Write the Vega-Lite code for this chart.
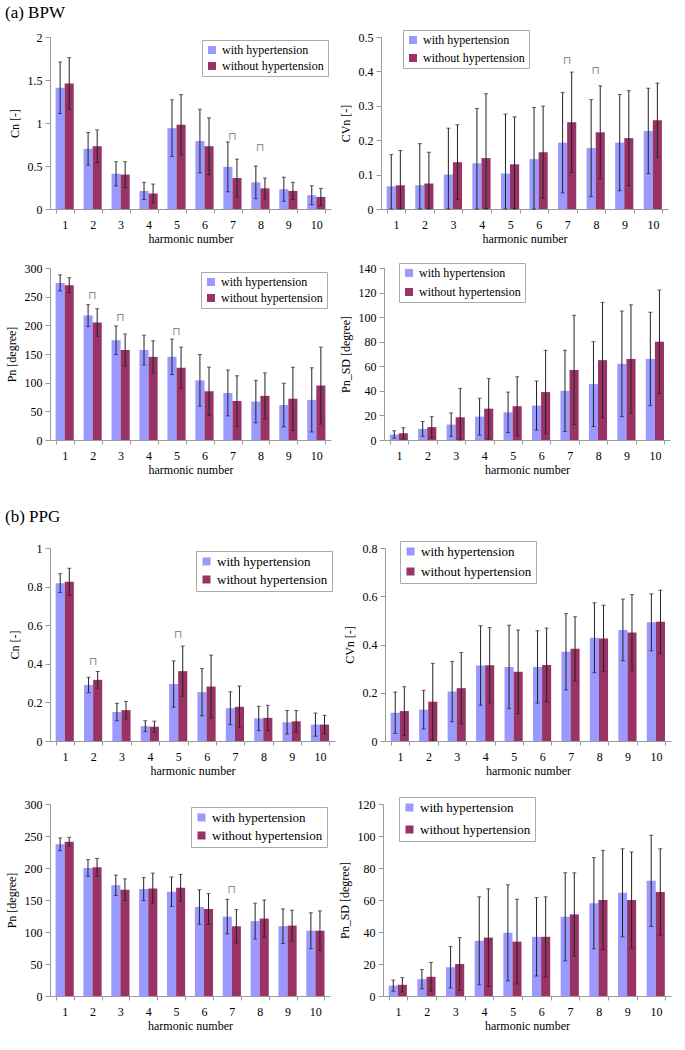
{
"$schema": "https://vega.github.io/schema/vega-lite/v6.json",
"padding": {"left": 5, "top": 3, "right": 2, "bottom": 2},
"datasets": {
"d": [
{"p":"A1","n":1,"g":"with hypertension","m":1.41,"lo":1.11,"hi":1.71},{"p":"A1","n":1,"g":"without hypertension","m":1.46,"lo":1.16,"hi":1.76},
{"p":"A1","n":2,"g":"with hypertension","m":0.70,"lo":0.51,"hi":0.89},{"p":"A1","n":2,"g":"without hypertension","m":0.73,"lo":0.54,"hi":0.92},
{"p":"A1","n":3,"g":"with hypertension","m":0.41,"lo":0.27,"hi":0.55},{"p":"A1","n":3,"g":"without hypertension","m":0.40,"lo":0.25,"hi":0.55},
{"p":"A1","n":4,"g":"with hypertension","m":0.21,"lo":0.11,"hi":0.31},{"p":"A1","n":4,"g":"without hypertension","m":0.18,"lo":0.07,"hi":0.29},
{"p":"A1","n":5,"g":"with hypertension","m":0.94,"lo":0.61,"hi":1.27},{"p":"A1","n":5,"g":"without hypertension","m":0.98,"lo":0.63,"hi":1.33},
{"p":"A1","n":6,"g":"with hypertension","m":0.79,"lo":0.42,"hi":1.16},{"p":"A1","n":6,"g":"without hypertension","m":0.73,"lo":0.40,"hi":1.06},
{"p":"A1","n":7,"g":"with hypertension","m":0.49,"lo":0.20,"hi":0.78},{"p":"A1","n":7,"g":"without hypertension","m":0.36,"lo":0.14,"hi":0.58},
{"p":"A1","n":8,"g":"with hypertension","m":0.31,"lo":0.12,"hi":0.50},{"p":"A1","n":8,"g":"without hypertension","m":0.24,"lo":0.12,"hi":0.36},
{"p":"A1","n":9,"g":"with hypertension","m":0.23,"lo":0.09,"hi":0.37},{"p":"A1","n":9,"g":"without hypertension","m":0.21,"lo":0.11,"hi":0.31},
{"p":"A1","n":10,"g":"with hypertension","m":0.16,"lo":0.05,"hi":0.27},{"p":"A1","n":10,"g":"without hypertension","m":0.14,"lo":0.04,"hi":0.24},
{"p":"A2","n":1,"g":"with hypertension","m":0.066,"lo":0,"hi":0.158},{"p":"A2","n":1,"g":"without hypertension","m":0.069,"lo":0,"hi":0.170},
{"p":"A2","n":2,"g":"with hypertension","m":0.069,"lo":0,"hi":0.190},{"p":"A2","n":2,"g":"without hypertension","m":0.074,"lo":0,"hi":0.165},
{"p":"A2","n":3,"g":"with hypertension","m":0.100,"lo":0,"hi":0.235},{"p":"A2","n":3,"g":"without hypertension","m":0.136,"lo":0.027,"hi":0.245},
{"p":"A2","n":4,"g":"with hypertension","m":0.133,"lo":0,"hi":0.292},{"p":"A2","n":4,"g":"without hypertension","m":0.148,"lo":0,"hi":0.335},
{"p":"A2","n":5,"g":"with hypertension","m":0.103,"lo":0,"hi":0.276},{"p":"A2","n":5,"g":"without hypertension","m":0.130,"lo":0,"hi":0.268},
{"p":"A2","n":6,"g":"with hypertension","m":0.145,"lo":0,"hi":0.295},{"p":"A2","n":6,"g":"without hypertension","m":0.165,"lo":0.031,"hi":0.299},
{"p":"A2","n":7,"g":"with hypertension","m":0.193,"lo":0.047,"hi":0.339},{"p":"A2","n":7,"g":"without hypertension","m":0.252,"lo":0.106,"hi":0.398},
{"p":"A2","n":8,"g":"with hypertension","m":0.177,"lo":0.036,"hi":0.318},{"p":"A2","n":8,"g":"without hypertension","m":0.223,"lo":0.088,"hi":0.358},
{"p":"A2","n":9,"g":"with hypertension","m":0.193,"lo":0.053,"hi":0.333},{"p":"A2","n":9,"g":"without hypertension","m":0.206,"lo":0.068,"hi":0.344},
{"p":"A2","n":10,"g":"with hypertension","m":0.227,"lo":0.103,"hi":0.351},{"p":"A2","n":10,"g":"without hypertension","m":0.258,"lo":0.150,"hi":0.366},
{"p":"A3","n":1,"g":"with hypertension","m":274,"lo":260,"hi":288},{"p":"A3","n":1,"g":"without hypertension","m":270,"lo":257,"hi":283},
{"p":"A3","n":2,"g":"with hypertension","m":217,"lo":198,"hi":236},{"p":"A3","n":2,"g":"without hypertension","m":205,"lo":181,"hi":229},
{"p":"A3","n":3,"g":"with hypertension","m":174,"lo":149,"hi":199},{"p":"A3","n":3,"g":"without hypertension","m":157,"lo":129,"hi":185},
{"p":"A3","n":4,"g":"with hypertension","m":157,"lo":131,"hi":183},{"p":"A3","n":4,"g":"without hypertension","m":145,"lo":117,"hi":173},
{"p":"A3","n":5,"g":"with hypertension","m":145,"lo":114,"hi":176},{"p":"A3","n":5,"g":"without hypertension","m":126,"lo":90,"hi":162},
{"p":"A3","n":6,"g":"with hypertension","m":104,"lo":59,"hi":149},{"p":"A3","n":6,"g":"without hypertension","m":85,"lo":43,"hi":127},
{"p":"A3","n":7,"g":"with hypertension","m":82,"lo":42,"hi":122},{"p":"A3","n":7,"g":"without hypertension","m":68,"lo":24,"hi":112},
{"p":"A3","n":8,"g":"with hypertension","m":67,"lo":30,"hi":104},{"p":"A3","n":8,"g":"without hypertension","m":77,"lo":37,"hi":117},
{"p":"A3","n":9,"g":"with hypertension","m":61,"lo":23,"hi":99},{"p":"A3","n":9,"g":"without hypertension","m":72,"lo":17,"hi":127},
{"p":"A3","n":10,"g":"with hypertension","m":70,"lo":14,"hi":126},{"p":"A3","n":10,"g":"without hypertension","m":95,"lo":28,"hi":162},
{"p":"A4","n":1,"g":"with hypertension","m":4.5,"lo":1.5,"hi":7.5},{"p":"A4","n":1,"g":"without hypertension","m":5.5,"lo":1,"hi":10},
{"p":"A4","n":2,"g":"with hypertension","m":9,"lo":3,"hi":15},{"p":"A4","n":2,"g":"without hypertension","m":10.5,"lo":2,"hi":19},
{"p":"A4","n":3,"g":"with hypertension","m":12.5,"lo":3,"hi":22},{"p":"A4","n":3,"g":"without hypertension","m":18.5,"lo":0,"hi":42},
{"p":"A4","n":4,"g":"with hypertension","m":19,"lo":4,"hi":34},{"p":"A4","n":4,"g":"without hypertension","m":25.5,"lo":1,"hi":50},
{"p":"A4","n":5,"g":"with hypertension","m":22.5,"lo":6,"hi":39},{"p":"A4","n":5,"g":"without hypertension","m":27.5,"lo":3.5,"hi":51.5},
{"p":"A4","n":6,"g":"with hypertension","m":28,"lo":8,"hi":48},{"p":"A4","n":6,"g":"without hypertension","m":39,"lo":5,"hi":73},
{"p":"A4","n":7,"g":"with hypertension","m":40,"lo":7,"hi":73},{"p":"A4","n":7,"g":"without hypertension","m":57,"lo":12.5,"hi":101.5},
{"p":"A4","n":8,"g":"with hypertension","m":45.5,"lo":11,"hi":80},{"p":"A4","n":8,"g":"without hypertension","m":65,"lo":18,"hi":112},
{"p":"A4","n":9,"g":"with hypertension","m":62,"lo":19,"hi":105},{"p":"A4","n":9,"g":"without hypertension","m":66,"lo":22,"hi":110},
{"p":"A4","n":10,"g":"with hypertension","m":66,"lo":28,"hi":104},{"p":"A4","n":10,"g":"without hypertension","m":80,"lo":38,"hi":122},
{"p":"B1","n":1,"g":"with hypertension","m":0.818,"lo":0.769,"hi":0.867},{"p":"B1","n":1,"g":"without hypertension","m":0.825,"lo":0.755,"hi":0.895},
{"p":"B1","n":2,"g":"with hypertension","m":0.290,"lo":0.250,"hi":0.330},{"p":"B1","n":2,"g":"without hypertension","m":0.317,"lo":0.274,"hi":0.360},
{"p":"B1","n":3,"g":"with hypertension","m":0.150,"lo":0.105,"hi":0.195},{"p":"B1","n":3,"g":"without hypertension","m":0.160,"lo":0.115,"hi":0.205},
{"p":"B1","n":4,"g":"with hypertension","m":0.077,"lo":0.049,"hi":0.105},{"p":"B1","n":4,"g":"without hypertension","m":0.074,"lo":0.045,"hi":0.103},
{"p":"B1","n":5,"g":"with hypertension","m":0.295,"lo":0.175,"hi":0.415},{"p":"B1","n":5,"g":"without hypertension","m":0.362,"lo":0.232,"hi":0.492},
{"p":"B1","n":6,"g":"with hypertension","m":0.253,"lo":0.131,"hi":0.375},{"p":"B1","n":6,"g":"without hypertension","m":0.282,"lo":0.119,"hi":0.445},
{"p":"B1","n":7,"g":"with hypertension","m":0.170,"lo":0.085,"hi":0.255},{"p":"B1","n":7,"g":"without hypertension","m":0.177,"lo":0.069,"hi":0.285},
{"p":"B1","n":8,"g":"with hypertension","m":0.117,"lo":0.054,"hi":0.180},{"p":"B1","n":8,"g":"without hypertension","m":0.120,"lo":0.055,"hi":0.185},
{"p":"B1","n":9,"g":"with hypertension","m":0.097,"lo":0.036,"hi":0.158},{"p":"B1","n":9,"g":"without hypertension","m":0.102,"lo":0.046,"hi":0.158},
{"p":"B1","n":10,"g":"with hypertension","m":0.085,"lo":0.025,"hi":0.145},{"p":"B1","n":10,"g":"without hypertension","m":0.085,"lo":0.037,"hi":0.133},
{"p":"B2","n":1,"g":"with hypertension","m":0.117,"lo":0.031,"hi":0.203},{"p":"B2","n":1,"g":"without hypertension","m":0.124,"lo":0.023,"hi":0.225},
{"p":"B2","n":2,"g":"with hypertension","m":0.130,"lo":0.050,"hi":0.210},{"p":"B2","n":2,"g":"without hypertension","m":0.163,"lo":0.004,"hi":0.322},
{"p":"B2","n":3,"g":"with hypertension","m":0.205,"lo":0.080,"hi":0.330},{"p":"B2","n":3,"g":"without hypertension","m":0.219,"lo":0.071,"hi":0.367},
{"p":"B2","n":4,"g":"with hypertension","m":0.313,"lo":0.148,"hi":0.478},{"p":"B2","n":4,"g":"without hypertension","m":0.314,"lo":0.158,"hi":0.470},
{"p":"B2","n":5,"g":"with hypertension","m":0.307,"lo":0.134,"hi":0.480},{"p":"B2","n":5,"g":"without hypertension","m":0.287,"lo":0.114,"hi":0.460},
{"p":"B2","n":6,"g":"with hypertension","m":0.307,"lo":0.157,"hi":0.457},{"p":"B2","n":6,"g":"without hypertension","m":0.315,"lo":0.162,"hi":0.468},
{"p":"B2","n":7,"g":"with hypertension","m":0.370,"lo":0.212,"hi":0.528},{"p":"B2","n":7,"g":"without hypertension","m":0.382,"lo":0.249,"hi":0.515},
{"p":"B2","n":8,"g":"with hypertension","m":0.428,"lo":0.283,"hi":0.573},{"p":"B2","n":8,"g":"without hypertension","m":0.425,"lo":0.287,"hi":0.563},
{"p":"B2","n":9,"g":"with hypertension","m":0.460,"lo":0.332,"hi":0.588},{"p":"B2","n":9,"g":"without hypertension","m":0.450,"lo":0.293,"hi":0.607},
{"p":"B2","n":10,"g":"with hypertension","m":0.492,"lo":0.374,"hi":0.610},{"p":"B2","n":10,"g":"without hypertension","m":0.494,"lo":0.363,"hi":0.625},
{"p":"B3","n":1,"g":"with hypertension","m":237,"lo":227,"hi":247},{"p":"B3","n":1,"g":"without hypertension","m":241,"lo":234,"hi":248},
{"p":"B3","n":2,"g":"with hypertension","m":200,"lo":187,"hi":213},{"p":"B3","n":2,"g":"without hypertension","m":201,"lo":187,"hi":215},
{"p":"B3","n":3,"g":"with hypertension","m":173,"lo":157,"hi":189},{"p":"B3","n":3,"g":"without hypertension","m":166,"lo":149,"hi":183},
{"p":"B3","n":4,"g":"with hypertension","m":167,"lo":149,"hi":185},{"p":"B3","n":4,"g":"without hypertension","m":168,"lo":144,"hi":192},
{"p":"B3","n":5,"g":"with hypertension","m":163,"lo":140,"hi":186},{"p":"B3","n":5,"g":"without hypertension","m":169,"lo":148,"hi":190},
{"p":"B3","n":6,"g":"with hypertension","m":139,"lo":112,"hi":166},{"p":"B3","n":6,"g":"without hypertension","m":136,"lo":112,"hi":160},
{"p":"B3","n":7,"g":"with hypertension","m":124,"lo":97,"hi":151},{"p":"B3","n":7,"g":"without hypertension","m":109,"lo":83,"hi":135},
{"p":"B3","n":8,"g":"with hypertension","m":117,"lo":89,"hi":145},{"p":"B3","n":8,"g":"without hypertension","m":121,"lo":92,"hi":150},
{"p":"B3","n":9,"g":"with hypertension","m":109,"lo":82,"hi":136},{"p":"B3","n":9,"g":"without hypertension","m":110,"lo":86,"hi":134},
{"p":"B3","n":10,"g":"with hypertension","m":102,"lo":74,"hi":130},{"p":"B3","n":10,"g":"without hypertension","m":102,"lo":71,"hi":133},
{"p":"B4","n":1,"g":"with hypertension","m":6.5,"lo":3,"hi":10},{"p":"B4","n":1,"g":"without hypertension","m":7,"lo":2.5,"hi":11.5},
{"p":"B4","n":2,"g":"with hypertension","m":10.5,"lo":4.5,"hi":16.5},{"p":"B4","n":2,"g":"without hypertension","m":12,"lo":3,"hi":21},
{"p":"B4","n":3,"g":"with hypertension","m":18,"lo":5,"hi":31},{"p":"B4","n":3,"g":"without hypertension","m":20,"lo":3.5,"hi":36.5},
{"p":"B4","n":4,"g":"with hypertension","m":34.5,"lo":7,"hi":62},{"p":"B4","n":4,"g":"without hypertension","m":36.5,"lo":6,"hi":67},
{"p":"B4","n":5,"g":"with hypertension","m":39.5,"lo":9.5,"hi":69.5},{"p":"B4","n":5,"g":"without hypertension","m":34,"lo":7.5,"hi":60.5},
{"p":"B4","n":6,"g":"with hypertension","m":37,"lo":12.5,"hi":61.5},{"p":"B4","n":6,"g":"without hypertension","m":37,"lo":12,"hi":62},
{"p":"B4","n":7,"g":"with hypertension","m":49.5,"lo":22,"hi":77},{"p":"B4","n":7,"g":"without hypertension","m":51,"lo":25,"hi":77},
{"p":"B4","n":8,"g":"with hypertension","m":58,"lo":29.5,"hi":86.5},{"p":"B4","n":8,"g":"without hypertension","m":60,"lo":29,"hi":91},
{"p":"B4","n":9,"g":"with hypertension","m":64.5,"lo":37,"hi":92},{"p":"B4","n":9,"g":"without hypertension","m":60,"lo":30,"hi":90},
{"p":"B4","n":10,"g":"with hypertension","m":72,"lo":43.5,"hi":100.5},{"p":"B4","n":10,"g":"without hypertension","m":65,"lo":38,"hi":92}
],
"s": [
{"p":"A1","n":7,"y":0.84,"t":"⊓"},{"p":"A1","n":8,"y":0.71,"t":"⊓"},
{"p":"A2","n":7,"y":0.43,"t":"⊓"},{"p":"A2","n":8,"y":0.40,"t":"⊓"},
{"p":"A3","n":2,"y":251,"t":"⊓"},{"p":"A3","n":3,"y":213,"t":"⊓"},{"p":"A3","n":5,"y":188,"t":"⊓"},
{"p":"B1","n":2,"y":0.41,"t":"⊓"},{"p":"B1","n":5,"y":0.55,"t":"⊓"},
{"p":"B3","n":7,"y":166,"t":"⊓"}
]
},
"spacing": 32,
"resolve": {"scale": {"color": "independent"}},
"vconcat": [
{
"title": {"text": "(a) BPW", "offset": 8},
"spacing": 18,
"resolve": {"scale": {"color": "independent"}},
"vconcat": [
{"spacing": 8, "resolve": {"scale": {"color": "independent"}}, "hconcat": [
{"width": 281, "height": 172, "layer": [
{"data": {"name": "d"}, "transform": [{"filter": "datum.p == 'A1'"}], "mark": {"type": "bar"},
 "encoding": {"x": {"field": "n", "type": "ordinal", "title": "harmonic number", "scale": {"paddingInner": 0.35, "paddingOuter": 0.2}},
  "xOffset": {"field": "g", "type": "nominal"},
  "y": {"field": "m", "type": "quantitative", "title": "Cn [-]", "scale": {"domain": [0, 2]}, "axis": {"values": [0, 0.5, 1, 1.5, 2], "format": "~f"}},
  "color": {"field": "g", "type": "nominal", "scale": {"domain": ["with hypertension", "without hypertension"], "range": ["#9999ff", "#993366"]}, "legend": {"title": null, "orient": "top-right", "offset": 3}}}},
{"data": {"name": "d"}, "transform": [{"filter": "datum.p == 'A1'"}], "mark": {"type": "rule", "color": "#222", "strokeWidth": 1},
 "encoding": {"x": {"field": "n", "type": "ordinal", "title": "harmonic number"}, "xOffset": {"field": "g", "type": "nominal"}, "y": {"field": "lo", "type": "quantitative", "title": "Cn [-]", "axis": {"values": [0, 0.5, 1, 1.5, 2], "format": "~f"}}, "y2": {"field": "hi"}}},
{"data": {"name": "d"}, "transform": [{"filter": "datum.p == 'A1'"}], "mark": {"type": "tick", "size": 4, "thickness": 1, "color": "#222"},
 "encoding": {"x": {"field": "n", "type": "ordinal", "title": "harmonic number"}, "xOffset": {"field": "g", "type": "nominal"}, "y": {"field": "lo", "type": "quantitative", "title": "Cn [-]", "axis": {"values": [0, 0.5, 1, 1.5, 2], "format": "~f"}}}},
{"data": {"name": "d"}, "transform": [{"filter": "datum.p == 'A1'"}], "mark": {"type": "tick", "size": 4, "thickness": 1, "color": "#222"},
 "encoding": {"x": {"field": "n", "type": "ordinal", "title": "harmonic number"}, "xOffset": {"field": "g", "type": "nominal"}, "y": {"field": "hi", "type": "quantitative", "title": "Cn [-]", "axis": {"values": [0, 0.5, 1, 1.5, 2], "format": "~f"}}}},
{"data": {"name": "s"}, "transform": [{"filter": "datum.p == 'A1'"}], "mark": {"type": "text", "font": "DejaVu Sans", "fontSize": 11, "color": "#888", "baseline": "middle"},
 "encoding": {"x": {"field": "n", "type": "ordinal", "title": "harmonic number"}, "y": {"field": "y", "type": "quantitative", "title": "Cn [-]", "axis": {"values": [0, 0.5, 1, 1.5, 2], "format": "~f"}}, "text": {"field": "t"}}}
]},
{"width": 287, "height": 172, "layer": [
{"data": {"name": "d"}, "transform": [{"filter": "datum.p == 'A2'"}], "mark": {"type": "bar"},
 "encoding": {"x": {"field": "n", "type": "ordinal", "title": "harmonic number", "scale": {"paddingInner": 0.35, "paddingOuter": 0.2}},
  "xOffset": {"field": "g", "type": "nominal"},
  "y": {"field": "m", "type": "quantitative", "title": "CVn [-]", "scale": {"domain": [0, 0.5]}, "axis": {"values": [0, 0.1, 0.2, 0.3, 0.4, 0.5], "format": "~f"}},
  "color": {"field": "g", "type": "nominal", "scale": {"domain": ["with hypertension", "without hypertension"], "range": ["#9999ff", "#993366"]}, "legend": {"title": null, "orient": "none", "legendX": 22, "legendY": -7, "rowPadding": 6}}}},
{"data": {"name": "d"}, "transform": [{"filter": "datum.p == 'A2'"}], "mark": {"type": "rule", "color": "#222", "strokeWidth": 1},
 "encoding": {"x": {"field": "n", "type": "ordinal", "title": "harmonic number"}, "xOffset": {"field": "g", "type": "nominal"}, "y": {"field": "lo", "type": "quantitative", "title": "CVn [-]", "axis": {"values": [0, 0.1, 0.2, 0.3, 0.4, 0.5], "format": "~f"}}, "y2": {"field": "hi"}}},
{"data": {"name": "d"}, "transform": [{"filter": "datum.p == 'A2'"}], "mark": {"type": "tick", "size": 4, "thickness": 1, "color": "#222"},
 "encoding": {"x": {"field": "n", "type": "ordinal", "title": "harmonic number"}, "xOffset": {"field": "g", "type": "nominal"}, "y": {"field": "lo", "type": "quantitative", "title": "CVn [-]", "axis": {"values": [0, 0.1, 0.2, 0.3, 0.4, 0.5], "format": "~f"}}}},
{"data": {"name": "d"}, "transform": [{"filter": "datum.p == 'A2'"}], "mark": {"type": "tick", "size": 4, "thickness": 1, "color": "#222"},
 "encoding": {"x": {"field": "n", "type": "ordinal", "title": "harmonic number"}, "xOffset": {"field": "g", "type": "nominal"}, "y": {"field": "hi", "type": "quantitative", "title": "CVn [-]", "axis": {"values": [0, 0.1, 0.2, 0.3, 0.4, 0.5], "format": "~f"}}}},
{"data": {"name": "s"}, "transform": [{"filter": "datum.p == 'A2'"}], "mark": {"type": "text", "font": "DejaVu Sans", "fontSize": 11, "color": "#888", "baseline": "middle"},
 "encoding": {"x": {"field": "n", "type": "ordinal", "title": "harmonic number"}, "y": {"field": "y", "type": "quantitative", "title": "CVn [-]", "axis": {"values": [0, 0.1, 0.2, 0.3, 0.4, 0.5], "format": "~f"}}, "text": {"field": "t"}}}
]}
]},
{"spacing": 8, "resolve": {"scale": {"color": "independent"}}, "hconcat": [
{"width": 281, "height": 172, "layer": [
{"data": {"name": "d"}, "transform": [{"filter": "datum.p == 'A3'"}], "mark": {"type": "bar"},
 "encoding": {"x": {"field": "n", "type": "ordinal", "title": "harmonic number", "scale": {"paddingInner": 0.35, "paddingOuter": 0.2}},
  "xOffset": {"field": "g", "type": "nominal"},
  "y": {"field": "m", "type": "quantitative", "title": "Pn [degree]", "scale": {"domain": [0, 300]}, "axis": {"values": [0, 50, 100, 150, 200, 250, 300], "format": "~f"}},
  "color": {"field": "g", "type": "nominal", "scale": {"domain": ["with hypertension", "without hypertension"], "range": ["#9999ff", "#993366"]}, "legend": {"title": null, "orient": "top-right", "offset": 4}}}},
{"data": {"name": "d"}, "transform": [{"filter": "datum.p == 'A3'"}], "mark": {"type": "rule", "color": "#222", "strokeWidth": 1},
 "encoding": {"x": {"field": "n", "type": "ordinal", "title": "harmonic number"}, "xOffset": {"field": "g", "type": "nominal"}, "y": {"field": "lo", "type": "quantitative", "title": "Pn [degree]", "axis": {"values": [0, 50, 100, 150, 200, 250, 300], "format": "~f"}}, "y2": {"field": "hi"}}},
{"data": {"name": "d"}, "transform": [{"filter": "datum.p == 'A3'"}], "mark": {"type": "tick", "size": 4, "thickness": 1, "color": "#222"},
 "encoding": {"x": {"field": "n", "type": "ordinal", "title": "harmonic number"}, "xOffset": {"field": "g", "type": "nominal"}, "y": {"field": "lo", "type": "quantitative", "title": "Pn [degree]", "axis": {"values": [0, 50, 100, 150, 200, 250, 300], "format": "~f"}}}},
{"data": {"name": "d"}, "transform": [{"filter": "datum.p == 'A3'"}], "mark": {"type": "tick", "size": 4, "thickness": 1, "color": "#222"},
 "encoding": {"x": {"field": "n", "type": "ordinal", "title": "harmonic number"}, "xOffset": {"field": "g", "type": "nominal"}, "y": {"field": "hi", "type": "quantitative", "title": "Pn [degree]", "axis": {"values": [0, 50, 100, 150, 200, 250, 300], "format": "~f"}}}},
{"data": {"name": "s"}, "transform": [{"filter": "datum.p == 'A3'"}], "mark": {"type": "text", "font": "DejaVu Sans", "fontSize": 11, "color": "#888", "baseline": "middle"},
 "encoding": {"x": {"field": "n", "type": "ordinal", "title": "harmonic number"}, "y": {"field": "y", "type": "quantitative", "title": "Pn [degree]", "axis": {"values": [0, 50, 100, 150, 200, 250, 300], "format": "~f"}}, "text": {"field": "t"}}}
]},
{"width": 286, "height": 172, "layer": [
{"data": {"name": "d"}, "transform": [{"filter": "datum.p == 'A4'"}], "mark": {"type": "bar"},
 "encoding": {"x": {"field": "n", "type": "ordinal", "title": "harmonic number", "scale": {"paddingInner": 0.35, "paddingOuter": 0.2}},
  "xOffset": {"field": "g", "type": "nominal"},
  "y": {"field": "m", "type": "quantitative", "title": "Pn_SD [degree]", "scale": {"domain": [0, 140]}, "axis": {"values": [0, 20, 40, 60, 80, 100, 120, 140], "format": "~f"}},
  "color": {"field": "g", "type": "nominal", "scale": {"domain": ["with hypertension", "without hypertension"], "range": ["#9999ff", "#993366"]}, "legend": {"title": null, "orient": "none", "legendX": 15, "legendY": -5, "rowPadding": 7}}}},
{"data": {"name": "d"}, "transform": [{"filter": "datum.p == 'A4'"}], "mark": {"type": "rule", "color": "#222", "strokeWidth": 1},
 "encoding": {"x": {"field": "n", "type": "ordinal", "title": "harmonic number"}, "xOffset": {"field": "g", "type": "nominal"}, "y": {"field": "lo", "type": "quantitative", "title": "Pn_SD [degree]", "axis": {"values": [0, 20, 40, 60, 80, 100, 120, 140], "format": "~f"}}, "y2": {"field": "hi"}}},
{"data": {"name": "d"}, "transform": [{"filter": "datum.p == 'A4'"}], "mark": {"type": "tick", "size": 4, "thickness": 1, "color": "#222"},
 "encoding": {"x": {"field": "n", "type": "ordinal", "title": "harmonic number"}, "xOffset": {"field": "g", "type": "nominal"}, "y": {"field": "lo", "type": "quantitative", "title": "Pn_SD [degree]", "axis": {"values": [0, 20, 40, 60, 80, 100, 120, 140], "format": "~f"}}}},
{"data": {"name": "d"}, "transform": [{"filter": "datum.p == 'A4'"}], "mark": {"type": "tick", "size": 4, "thickness": 1, "color": "#222"},
 "encoding": {"x": {"field": "n", "type": "ordinal", "title": "harmonic number"}, "xOffset": {"field": "g", "type": "nominal"}, "y": {"field": "hi", "type": "quantitative", "title": "Pn_SD [degree]", "axis": {"values": [0, 20, 40, 60, 80, 100, 120, 140], "format": "~f"}}}}
]}
]}
]
},
{
"title": {"text": "(b) PPG", "offset": 15},
"spacing": 20,
"resolve": {"scale": {"color": "independent"}},
"vconcat": [
{"spacing": 8, "resolve": {"scale": {"color": "independent"}}, "hconcat": [
{"width": 285, "height": 193, "layer": [
{"data": {"name": "d"}, "transform": [{"filter": "datum.p == 'B1'"}], "mark": {"type": "bar"},
 "encoding": {"x": {"field": "n", "type": "ordinal", "title": "harmonic number", "scale": {"paddingInner": 0.35, "paddingOuter": 0.2}},
  "xOffset": {"field": "g", "type": "nominal"},
  "y": {"field": "m", "type": "quantitative", "title": "Cn [-]", "scale": {"domain": [0, 1]}, "axis": {"values": [0, 0.2, 0.4, 0.6, 0.8, 1], "format": "~f"}},
  "color": {"field": "g", "type": "nominal", "scale": {"domain": ["with hypertension", "without hypertension"], "range": ["#9999ff", "#993366"]}, "legend": {"title": null, "orient": "top-right", "offset": 3, "labelFontSize": 13}}}},
{"data": {"name": "d"}, "transform": [{"filter": "datum.p == 'B1'"}], "mark": {"type": "rule", "color": "#222", "strokeWidth": 1},
 "encoding": {"x": {"field": "n", "type": "ordinal", "title": "harmonic number"}, "xOffset": {"field": "g", "type": "nominal"}, "y": {"field": "lo", "type": "quantitative", "title": "Cn [-]", "axis": {"values": [0, 0.2, 0.4, 0.6, 0.8, 1], "format": "~f"}}, "y2": {"field": "hi"}}},
{"data": {"name": "d"}, "transform": [{"filter": "datum.p == 'B1'"}], "mark": {"type": "tick", "size": 4, "thickness": 1, "color": "#222"},
 "encoding": {"x": {"field": "n", "type": "ordinal", "title": "harmonic number"}, "xOffset": {"field": "g", "type": "nominal"}, "y": {"field": "lo", "type": "quantitative", "title": "Cn [-]", "axis": {"values": [0, 0.2, 0.4, 0.6, 0.8, 1], "format": "~f"}}}},
{"data": {"name": "d"}, "transform": [{"filter": "datum.p == 'B1'"}], "mark": {"type": "tick", "size": 4, "thickness": 1, "color": "#222"},
 "encoding": {"x": {"field": "n", "type": "ordinal", "title": "harmonic number"}, "xOffset": {"field": "g", "type": "nominal"}, "y": {"field": "hi", "type": "quantitative", "title": "Cn [-]", "axis": {"values": [0, 0.2, 0.4, 0.6, 0.8, 1], "format": "~f"}}}},
{"data": {"name": "s"}, "transform": [{"filter": "datum.p == 'B1'"}], "mark": {"type": "text", "font": "DejaVu Sans", "fontSize": 11, "color": "#888", "baseline": "middle"},
 "encoding": {"x": {"field": "n", "type": "ordinal", "title": "harmonic number"}, "y": {"field": "y", "type": "quantitative", "title": "Cn [-]", "axis": {"values": [0, 0.2, 0.4, 0.6, 0.8, 1], "format": "~f"}}, "text": {"field": "t"}}}
]},
{"width": 286, "height": 193, "layer": [
{"data": {"name": "d"}, "transform": [{"filter": "datum.p == 'B2'"}], "mark": {"type": "bar"},
 "encoding": {"x": {"field": "n", "type": "ordinal", "title": "harmonic number", "scale": {"paddingInner": 0.35, "paddingOuter": 0.2}},
  "xOffset": {"field": "g", "type": "nominal"},
  "y": {"field": "m", "type": "quantitative", "title": "CVn [-]", "scale": {"domain": [0, 0.8]}, "axis": {"values": [0, 0.2, 0.4, 0.6, 0.8], "format": "~f"}},
  "color": {"field": "g", "type": "nominal", "scale": {"domain": ["with hypertension", "without hypertension"], "range": ["#9999ff", "#993366"]}, "legend": {"title": null, "orient": "none", "legendX": 15, "legendY": -7, "rowPadding": 6, "labelFontSize": 13}}}},
{"data": {"name": "d"}, "transform": [{"filter": "datum.p == 'B2'"}], "mark": {"type": "rule", "color": "#222", "strokeWidth": 1},
 "encoding": {"x": {"field": "n", "type": "ordinal", "title": "harmonic number"}, "xOffset": {"field": "g", "type": "nominal"}, "y": {"field": "lo", "type": "quantitative", "title": "CVn [-]", "axis": {"values": [0, 0.2, 0.4, 0.6, 0.8], "format": "~f"}}, "y2": {"field": "hi"}}},
{"data": {"name": "d"}, "transform": [{"filter": "datum.p == 'B2'"}], "mark": {"type": "tick", "size": 4, "thickness": 1, "color": "#222"},
 "encoding": {"x": {"field": "n", "type": "ordinal", "title": "harmonic number"}, "xOffset": {"field": "g", "type": "nominal"}, "y": {"field": "lo", "type": "quantitative", "title": "CVn [-]", "axis": {"values": [0, 0.2, 0.4, 0.6, 0.8], "format": "~f"}}}},
{"data": {"name": "d"}, "transform": [{"filter": "datum.p == 'B2'"}], "mark": {"type": "tick", "size": 4, "thickness": 1, "color": "#222"},
 "encoding": {"x": {"field": "n", "type": "ordinal", "title": "harmonic number"}, "xOffset": {"field": "g", "type": "nominal"}, "y": {"field": "hi", "type": "quantitative", "title": "CVn [-]", "axis": {"values": [0, 0.2, 0.4, 0.6, 0.8], "format": "~f"}}}}
]}
]},
{"spacing": 8, "resolve": {"scale": {"color": "independent"}}, "hconcat": [
{"width": 280, "height": 192, "layer": [
{"data": {"name": "d"}, "transform": [{"filter": "datum.p == 'B3'"}], "mark": {"type": "bar"},
 "encoding": {"x": {"field": "n", "type": "ordinal", "title": "harmonic number", "scale": {"paddingInner": 0.35, "paddingOuter": 0.2}},
  "xOffset": {"field": "g", "type": "nominal"},
  "y": {"field": "m", "type": "quantitative", "title": "Pn [degree]", "scale": {"domain": [0, 300]}, "axis": {"values": [0, 50, 100, 150, 200, 250, 300], "format": "~f"}},
  "color": {"field": "g", "type": "nominal", "scale": {"domain": ["with hypertension", "without hypertension"], "range": ["#9999ff", "#993366"]}, "legend": {"title": null, "orient": "top-right", "offset": 3, "labelFontSize": 13}}}},
{"data": {"name": "d"}, "transform": [{"filter": "datum.p == 'B3'"}], "mark": {"type": "rule", "color": "#222", "strokeWidth": 1},
 "encoding": {"x": {"field": "n", "type": "ordinal", "title": "harmonic number"}, "xOffset": {"field": "g", "type": "nominal"}, "y": {"field": "lo", "type": "quantitative", "title": "Pn [degree]", "axis": {"values": [0, 50, 100, 150, 200, 250, 300], "format": "~f"}}, "y2": {"field": "hi"}}},
{"data": {"name": "d"}, "transform": [{"filter": "datum.p == 'B3'"}], "mark": {"type": "tick", "size": 4, "thickness": 1, "color": "#222"},
 "encoding": {"x": {"field": "n", "type": "ordinal", "title": "harmonic number"}, "xOffset": {"field": "g", "type": "nominal"}, "y": {"field": "lo", "type": "quantitative", "title": "Pn [degree]", "axis": {"values": [0, 50, 100, 150, 200, 250, 300], "format": "~f"}}}},
{"data": {"name": "d"}, "transform": [{"filter": "datum.p == 'B3'"}], "mark": {"type": "tick", "size": 4, "thickness": 1, "color": "#222"},
 "encoding": {"x": {"field": "n", "type": "ordinal", "title": "harmonic number"}, "xOffset": {"field": "g", "type": "nominal"}, "y": {"field": "hi", "type": "quantitative", "title": "Pn [degree]", "axis": {"values": [0, 50, 100, 150, 200, 250, 300], "format": "~f"}}}},
{"data": {"name": "s"}, "transform": [{"filter": "datum.p == 'B3'"}], "mark": {"type": "text", "font": "DejaVu Sans", "fontSize": 11, "color": "#888", "baseline": "middle"},
 "encoding": {"x": {"field": "n", "type": "ordinal", "title": "harmonic number"}, "y": {"field": "y", "type": "quantitative", "title": "Pn [degree]", "axis": {"values": [0, 50, 100, 150, 200, 250, 300], "format": "~f"}}, "text": {"field": "t"}}}
]},
{"width": 288, "height": 192, "layer": [
{"data": {"name": "d"}, "transform": [{"filter": "datum.p == 'B4'"}], "mark": {"type": "bar"},
 "encoding": {"x": {"field": "n", "type": "ordinal", "title": "harmonic number", "scale": {"paddingInner": 0.35, "paddingOuter": 0.2}},
  "xOffset": {"field": "g", "type": "nominal"},
  "y": {"field": "m", "type": "quantitative", "title": "Pn_SD [degree]", "scale": {"domain": [0, 120]}, "axis": {"values": [0, 20, 40, 60, 80, 100, 120], "format": "~f"}},
  "color": {"field": "g", "type": "nominal", "scale": {"domain": ["with hypertension", "without hypertension"], "range": ["#9999ff", "#993366"]}, "legend": {"title": null, "orient": "none", "legendX": 16, "legendY": -7, "rowPadding": 8, "labelFontSize": 13}}}},
{"data": {"name": "d"}, "transform": [{"filter": "datum.p == 'B4'"}], "mark": {"type": "rule", "color": "#222", "strokeWidth": 1},
 "encoding": {"x": {"field": "n", "type": "ordinal", "title": "harmonic number"}, "xOffset": {"field": "g", "type": "nominal"}, "y": {"field": "lo", "type": "quantitative", "title": "Pn_SD [degree]", "axis": {"values": [0, 20, 40, 60, 80, 100, 120], "format": "~f"}}, "y2": {"field": "hi"}}},
{"data": {"name": "d"}, "transform": [{"filter": "datum.p == 'B4'"}], "mark": {"type": "tick", "size": 4, "thickness": 1, "color": "#222"},
 "encoding": {"x": {"field": "n", "type": "ordinal", "title": "harmonic number"}, "xOffset": {"field": "g", "type": "nominal"}, "y": {"field": "lo", "type": "quantitative", "title": "Pn_SD [degree]", "axis": {"values": [0, 20, 40, 60, 80, 100, 120], "format": "~f"}}}},
{"data": {"name": "d"}, "transform": [{"filter": "datum.p == 'B4'"}], "mark": {"type": "tick", "size": 4, "thickness": 1, "color": "#222"},
 "encoding": {"x": {"field": "n", "type": "ordinal", "title": "harmonic number"}, "xOffset": {"field": "g", "type": "nominal"}, "y": {"field": "hi", "type": "quantitative", "title": "Pn_SD [degree]", "axis": {"values": [0, 20, 40, 60, 80, 100, 120], "format": "~f"}}}}
]}
]}
]
}
],
"config": {
 "font": "Liberation Serif",
 "background": "white",
 "view": {"stroke": null},
 "axis": {"labelFont": "Liberation Serif", "titleFont": "Liberation Serif", "labelFontSize": 12, "titleFontSize": 12, "titleFontWeight": "normal", "domainColor": "#999", "tickColor": "#999", "labelColor": "#000", "titleColor": "#000", "grid": false},
 "axisX": {"labelAngle": 0, "tickBand": "extent", "tickSize": 4, "labelPadding": 6, "titlePadding": 3},
 "axisY": {"tickSize": 5, "labelPadding": 3, "titlePadding": 6, "labelOverlap": false},
 "legend": {"labelFont": "Liberation Serif", "labelFontSize": 12, "strokeColor": "#aaa", "fillColor": "white", "padding": 4, "symbolType": "square", "symbolSize": 64, "rowPadding": 4, "labelColor": "#000", "symbolStrokeWidth": 0},
 "title": {"font": "Liberation Serif", "fontSize": 17, "fontWeight": "normal", "anchor": "start", "color": "#000"}
}
}
